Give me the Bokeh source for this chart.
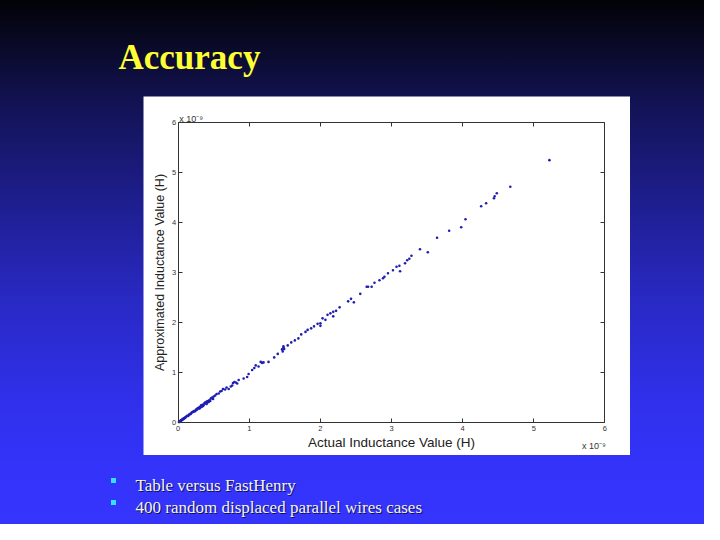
from bokeh.plotting import figure
from bokeh.layouts import column, row
from bokeh.models import Range1d, LinearAxis, Label, FixedTicker, ColumnDataSource, Spacer
from bokeh.core.properties import value
from bokeh.embed import file_html
from bokeh.resources import INLINE

# ---------------- data (units of 1e-9 H) ----------------
actual = [5.22, 4.67, 4.48, 4.45, 4.44, 4.33, 4.26, 4.04, 3.98, 3.81, 3.64, 3.51, 3.40,
          3.28, 3.25, 3.22, 3.19, 3.11, 3.07, 3.12, 3.02, 2.95, 2.90, 2.88, 2.83, 2.76,
          2.72, 2.65, 2.67, 2.56, 2.47, 2.43, 2.39, 2.27, 2.22, 2.18, 2.14, 2.18, 2.10,
          2.07, 2.03, 2.00, 1.96, 2.00, 1.91, 1.87, 1.82, 1.79, 1.73, 1.69, 1.64, 1.59,
          1.54, 1.48, 1.46, 1.47, 1.40, 1.35, 1.27, 1.20, 1.16, 1.09, 1.07, 1.04, 0.99,
          0.97, 0.92, 0.85, 0.83, 0.79, 0.76, 0.71, 0.68, 0.63, 0.59, 0.54, 0.50, 0.46,
          1.48, 1.49, 1.13, 1.18, 0.81, 0.77, 0.74, 0.66, 0.61, 0.57, 0.52, 0.48, 0.49,
          0.44, 0.42, 0.40, 0.39, 0.37, 0.35, 0.34, 0.32, 0.30, 0.29, 0.27, 0.25, 0.24,
          0.22, 0.21, 0.19, 0.18, 0.16, 0.15, 0.14, 0.12, 0.11, 0.10, 0.09, 0.08, 0.07,
          0.06, 0.05, 0.04, 0.03, 0.02, 0.01, 0.015, 0.025, 0.035, 0.045, 0.055, 0.065,
          0.075, 0.085, 0.095, 0.13, 0.17, 0.20, 0.23, 0.26, 0.28, 0.31, 0.33, 0.36,
          0.38, 0.41, 0.43, 0.45, 0.47, 0.30, 0.35, 0.40, 0.33]
approx = [5.24, 4.71, 4.58, 4.52, 4.48, 4.38, 4.32, 4.06, 3.90, 3.83, 3.69, 3.40, 3.46,
          3.33, 3.27, 3.24, 3.18, 3.13, 3.11, 3.02, 3.04, 2.98, 2.91, 2.88, 2.84, 2.79,
          2.71, 2.71, 2.71, 2.57, 2.40, 2.47, 2.42, 2.30, 2.23, 2.21, 2.18, 2.12, 2.15,
          2.05, 2.08, 1.98, 1.97, 1.93, 1.92, 1.88, 1.85, 1.81, 1.76, 1.68, 1.64, 1.60,
          1.54, 1.52, 1.46, 1.42, 1.37, 1.30, 1.21, 1.20, 1.21, 1.14, 1.09, 1.05, 0.97,
          0.91, 0.88, 0.85, 0.78, 0.81, 0.74, 0.67, 0.70, 0.67, 0.62, 0.57, 0.52, 0.48,
          1.50, 1.47, 1.12, 1.19, 0.80, 0.79, 0.72, 0.66, 0.63, 0.58, 0.54, 0.50, 0.47,
          0.45, 0.43, 0.42, 0.38, 0.39, 0.36, 0.33, 0.34, 0.31, 0.28, 0.28, 0.26, 0.23,
          0.23, 0.21, 0.20, 0.18, 0.17, 0.15, 0.13, 0.13, 0.11, 0.10, 0.09, 0.08, 0.07,
          0.06, 0.05, 0.04, 0.03, 0.02, 0.01, 0.012, 0.028, 0.033, 0.047, 0.052, 0.068,
          0.072, 0.088, 0.092, 0.135, 0.165, 0.21, 0.22, 0.25, 0.29, 0.30, 0.35, 0.35,
          0.40, 0.40, 0.41, 0.43, 0.49, 0.28, 0.33, 0.37, 0.31]
x_ticks = [0, 1, 2, 3, 4, 5, 6]
y_ticks = [0, 1, 2, 3, 4, 5, 6]
title_text = ["Accuracy"]
bullet_texts = ["Table versus FastHenry", "400 random displaced parallel wires cases"]
x_label = "Actual Inductance Value (H)"
y_label = "Approximated Inductance Value (H)"
exp_label = "x 10\u207b\u2079"

# ---------------- background gradient (page y in px -> colour) ----------------
STOPS = [(0, (2, 2, 8)), (35, (8, 8, 32)), (100, (18, 18, 82)), (200, (30, 30, 142)),
         (300, (41, 41, 196)), (400, (48, 48, 235)), (470, (51, 51, 250)),
         (540, (53, 53, 255))]
BG_CSS = "linear-gradient(to bottom, " + ", ".join(
    "rgb(%d,%d,%d) %dpx" % (c[0], c[1], c[2], y) for y, c in STOPS) + ")"


def bg_fig(w, h):
    f = figure(width=w, height=h, x_range=Range1d(0, w), y_range=Range1d(0, h),
               output_backend="svg", toolbar_location=None, min_border=0)
    f.axis.visible = False
    f.grid.visible = False
    f.outline_line_color = None
    f.border_fill_color = None
    f.background_fill_color = None
    return f


# ---------------- slide geometry (page pixels) ----------------
W = 704
H = 524
PANEL_L, PANEL_R, PANEL_T, PANEL_B = 143, 630, 96, 455
BOX_L, BOX_R, BOX_T, BOX_B = 177.7, 604.4, 121.6, 422.0

top = bg_fig(W, PANEL_T)
top.text(x=[118], y=[PANEL_T - 57], text=title_text, text_font=value("Liberation Serif"),
         text_font_style="bold", text_font_size="35px", text_color="#ffff33",
         text_baseline="alphabetic")

left = Spacer(width=PANEL_L, height=PANEL_B - PANEL_T, margin=0)
right = Spacer(width=W - PANEL_R, height=PANEL_B - PANEL_T, margin=0)

BOT_H = H - PANEL_B
bottom = bg_fig(W, BOT_H)
by = [480, 502]
bottom.rect(x=[113, 113], y=[H - b for b in by], width=5, height=5,
            fill_color="#33e0ff", line_color=None)
bottom.text(x=[136, 136], y=[H - b - 6 for b in by], text=bullet_texts,
            text_font=value("Liberation Serif"), text_font_size="17px",
            text_color="#10104a", text_baseline="alphabetic")
bottom.text(x=[135, 135], y=[H - b - 5 for b in by], text=bullet_texts,
            text_font=value("Liberation Serif"), text_font_size="17px",
            text_color="#f4f4f8", text_baseline="alphabetic")

# ---------------- inner scatter plot: frame = whole white panel ----------------
ux = (BOX_R - BOX_L) / 6.0
uy = (BOX_B - BOX_T) / 6.0
xr = Range1d(-(BOX_L - PANEL_L) / ux, 6 + (PANEL_R - BOX_R) / ux)
yr = Range1d(-(PANEL_B - BOX_B) / uy, 6 + (BOX_T - PANEL_T) / uy)
p = figure(width=PANEL_R - PANEL_L, height=PANEL_B - PANEL_T, x_range=xr, y_range=yr,
           output_backend="svg", toolbar_location=None, min_border=0,
           x_axis_location=None, y_axis_location=None)
p.background_fill_color = "white"
p.border_fill_color = "white"
p.grid.visible = False
p.outline_line_color = None

src = ColumnDataSource(data=dict(x=actual, y=approx))
p.scatter("x", "y", source=src, marker="circle", size=2.6, fill_color="#1e1eb4",
          line_color=None)

common = dict(major_tick_in=4, major_tick_out=0, minor_tick_line_color=None,
              axis_line_color="#333333", major_tick_line_color="#333333",
              bounds=(0, 6))
lab = dict(major_label_text_font="Liberation Sans", major_label_text_font_size="7.5px",
           major_label_text_color="#333333", axis_label_text_font="Liberation Sans",
           axis_label_text_font_style="normal", axis_label_text_color="#222222")

xa = LinearAxis(ticker=FixedTicker(ticks=x_ticks), fixed_location=0, axis_label=x_label,
                axis_label_text_font_size="13.5px", major_label_standoff=3,
                axis_label_standoff=1, **common, **lab)
ya = LinearAxis(ticker=FixedTicker(ticks=y_ticks), fixed_location=0, axis_label=y_label,
                axis_label_text_font_size="12.5px", major_label_standoff=2,
                axis_label_standoff=2, **common, **lab)
xt = LinearAxis(ticker=FixedTicker(ticks=x_ticks), fixed_location=6,
                major_label_text_alpha=0, major_label_text_font_size="1px", **common)
yt = LinearAxis(ticker=FixedTicker(ticks=y_ticks), fixed_location=6,
                major_label_text_alpha=0, major_label_text_font_size="1px", **common)
p.add_layout(xa, "below")
p.add_layout(ya, "left")
p.add_layout(xt, "above")
p.add_layout(yt, "right")

# multiplier labels
p.add_layout(Label(x=0, y=6, x_offset=1, y_offset=3.5, text=exp_label,
                   text_font="Liberation Sans", text_font_size="9px", text_color="#333333",
                   text_baseline="alphabetic"))
p.add_layout(Label(x=6, y=0, x_offset=1, y_offset=-23, text=exp_label, text_align="right",
                   text_font="Liberation Sans", text_font_size="9px", text_color="#333333",
                   text_baseline="alphabetic"))

layout = column(top, row(left, p, right, spacing=0), bottom, spacing=0,
                styles={"background": BG_CSS})

open("out.html", "w").write(file_html(layout, INLINE))
